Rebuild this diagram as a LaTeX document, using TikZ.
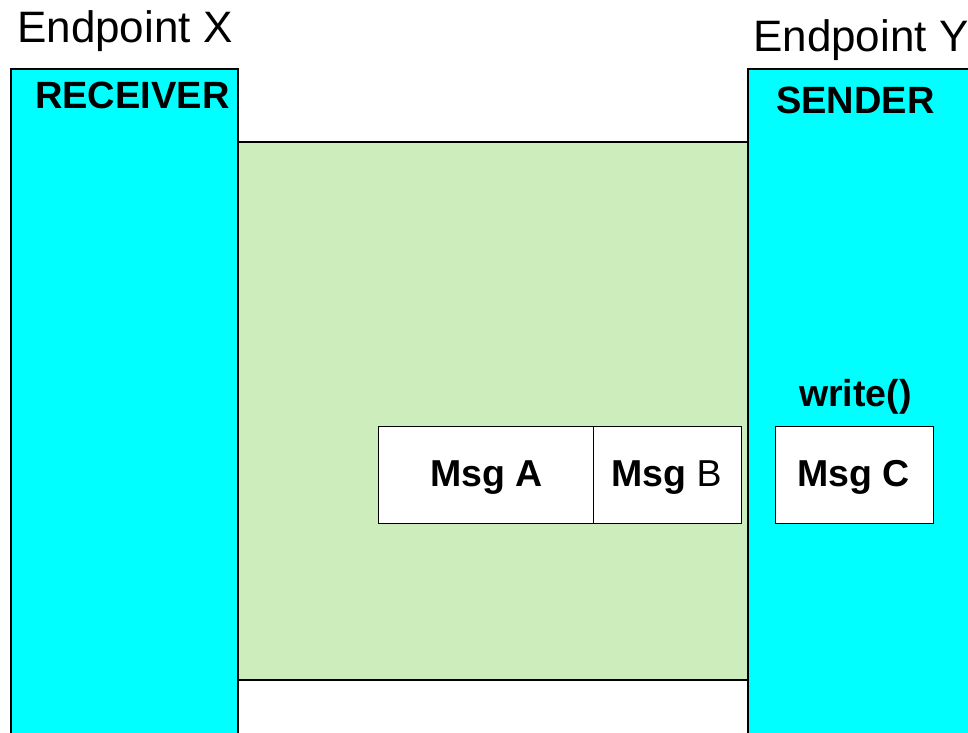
\documentclass[tikz,border=0pt]{standalone}
\usepackage{fontspec}
\setmainfont{Liberation Sans}
\definecolor{endcyan}{HTML}{00FFFF}
\definecolor{pipegreen}{HTML}{CDEDBD}
\tikzset{
  x=1pt, y=-1pt,
  endbox/.style={draw=black, line width=2pt, fill=endcyan},
  pipe/.style={draw=black, line width=2pt, fill=pipegreen},
  msgbox/.style={draw=black, line width=0.8pt, fill=white, inner sep=0pt},
  title/.style={anchor=base west, inner sep=0pt, font=\fontsize{44}{50}\selectfont},
  role/.style={anchor=base west, inner sep=0pt, font=\bfseries\fontsize{38}{44}\selectfont},
  msg/.style={anchor=base west, inner sep=0pt, font=\bfseries\fontsize{37.5}{44}\selectfont},
}
\begin{document}
\begin{tikzpicture}
\useasboundingbox (0,0) rectangle (968,732);
\clip (0,0) rectangle (968,732);
% the two endpoints
\draw[endbox] (11,69) rectangle (238,745);
\draw[endbox] (748,69) rectangle (985,745);
% the connection between them
\draw[pipe] (238,142) rectangle (748,680);
% queued messages
\node[msgbox, anchor=north west, minimum width=215pt, minimum height=97pt] (ma) at (378,426) {};
\node[msgbox, anchor=north west, minimum width=148pt, minimum height=97pt] (mb) at (593,426) {};
\node[msgbox, anchor=north west, minimum width=158pt, minimum height=97pt] (mc) at (775,426) {};
% labels
\node[title] (ex) at (17,42) {Endpoint X};
\node[title] (ey) at (753,51) {Endpoint Y};
\node[role] (rcv) at (35,108) {RECEIVER};
\node[role] (snd) at (776,113) {SENDER};
\node[msg] (la) at (430,486) {Msg A};
\node[msg] (lb) at (611,486) {Msg \mdseries B};
\node[msg] (lc) at (797,486) {Msg C};
\node[msg] (wr) at (799,406) {write()};
\end{tikzpicture}
\end{document}
